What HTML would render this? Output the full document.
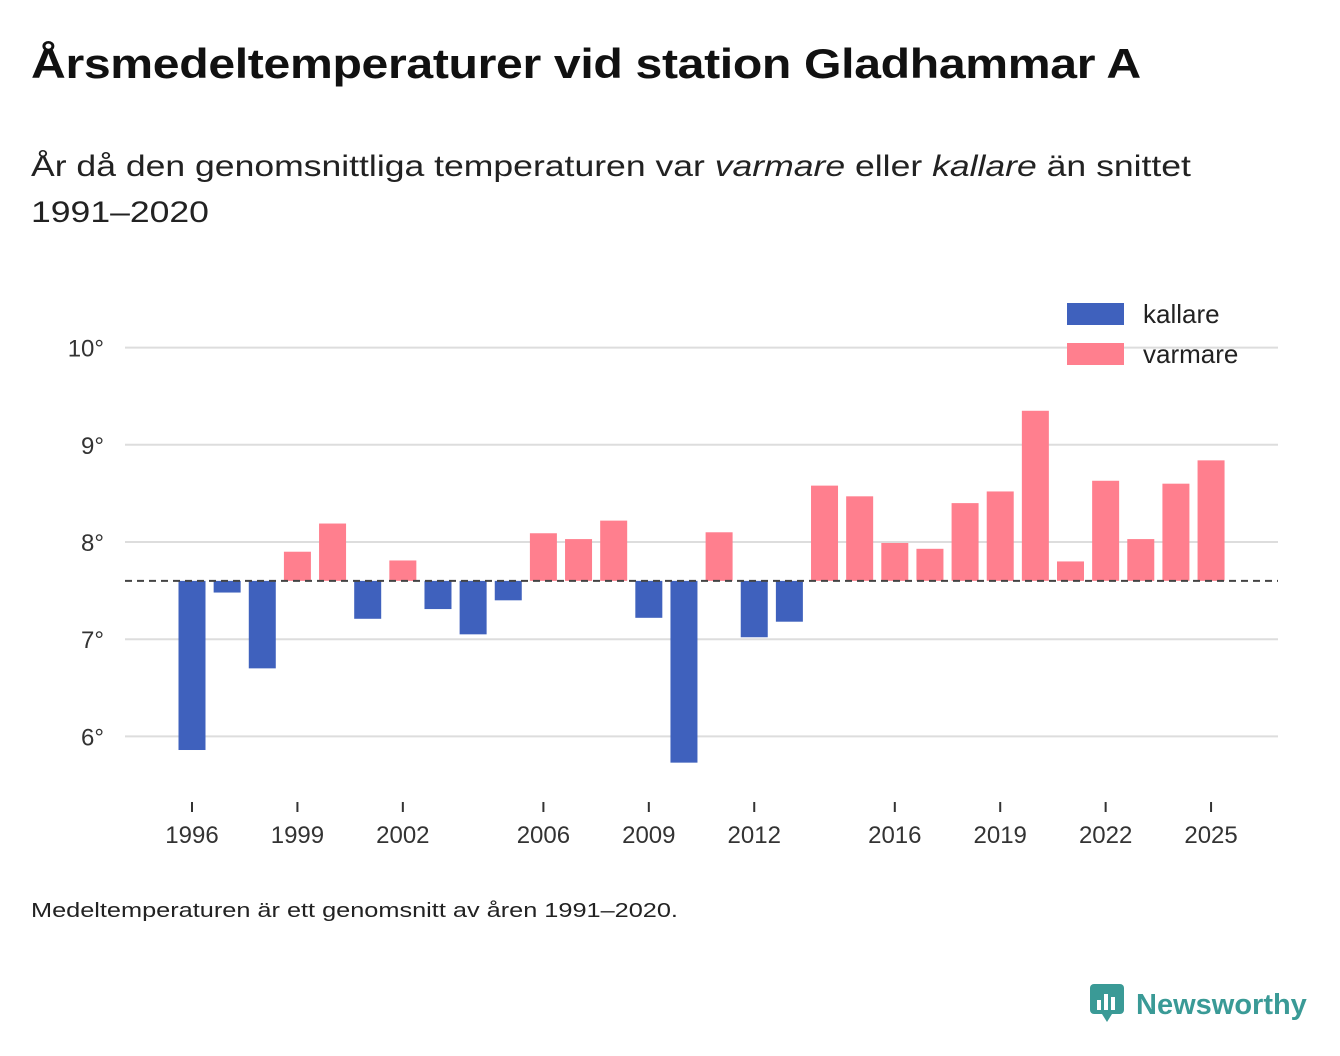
<!DOCTYPE html>
<html><head><meta charset="utf-8">
<style>
body{margin:0;background:#fff;width:1340px;height:1056px;overflow:hidden;font-family:"Liberation Sans","DejaVu Sans",sans-serif;color:#111}
h1{position:absolute;left:31px;top:40px;margin:0;font-size:42px;font-weight:bold;letter-spacing:-0.3px;transform:scaleX(1.147);transform-origin:0 0;white-space:nowrap}
.sub{position:absolute;left:31px;top:144px;font-size:30px;line-height:46px;color:#222;transform:scaleX(1.185);transform-origin:0 0;white-space:nowrap}
.foot{position:absolute;left:31px;top:900px;font-size:20px;color:#222;transform:scaleX(1.265);transform-origin:0 0;white-space:nowrap}
.logo{position:absolute;left:1090px;top:982px;font-size:29px;font-weight:bold;color:#3a9a96}
</style></head><body>
<h1>Årsmedeltemperaturer vid station Gladhammar A</h1>
<div class="sub">År då den genomsnittliga temperaturen var <i>varmare</i> eller <i>kallare</i> än snittet<br>1991–2020</div>
<svg id="chart" width="1340" height="1056" style="position:absolute;left:0;top:0"></svg>
<div class="foot">Medeltemperaturen är ett genomsnitt av åren 1991–2020.</div>
<div class="logo"><svg width="36" height="40" style="vertical-align:-8px;margin-right:10px"><rect x="0" y="2" width="34" height="30" rx="4" fill="#3a9a96"/><polygon points="12,32 22,32 17,40" fill="#3a9a96"/><rect x="7" y="18" width="4" height="10" fill="#fff"/><rect x="14" y="12" width="4" height="16" fill="#fff"/><rect x="21" y="15" width="4" height="13" fill="#fff"/></svg>Newsworthy</div>
<script>
const years=[1996,1997,1998,1999,2000,2001,2002,2003,2004,2005,2006,2007,2008,2009,2010,2011,2012,2013,2014,2015,2016,2017,2018,2019,2020,2021,2022,2023,2024,2025];
const temps=[5.86,7.48,6.70,7.90,8.19,7.21,7.81,7.31,7.05,7.40,8.09,8.03,8.22,7.22,5.73,8.10,7.02,7.18,8.58,8.47,7.99,7.93,8.40,8.52,9.35,7.80,8.63,8.03,8.60,8.84];
const baseline=7.6;
const yTicks=[6,7,8,9,10];
const xTicks=[1996,1999,2002,2006,2009,2012,2016,2019,2022,2025];
const svg=document.getElementById('chart');const NS='http://www.w3.org/2000/svg';
const y=v=>542-(v-8)*97.2;
const x=yr=>192+(yr-1996)*35.14;
function mk(t,a){const e=document.createElementNS(NS,t);for(const k in a)e.setAttribute(k,a[k]);svg.appendChild(e);return e;}
yTicks.forEach(v=>{
 const g=mk('line',{x1:125,x2:1278,y1:y(v),y2:y(v),stroke:'#ddd','stroke-width':2});
 
 
 const t=mk('text',{x:104,y:y(v)+9,'text-anchor':'end','font-size':24,fill:'#333'});t.textContent=v+'°';
 
 
});
years.forEach((yr,i)=>{
 const v=temps[i];const top=Math.min(y(v),y(baseline)),h=Math.abs(y(v)-y(baseline));
 const r=mk('rect',{x:x(yr)-13.5,y:top,width:27,height:h,fill:v<baseline?'#3f61bd':'#ff7f8e'});
 
 
});
const bl=mk('line',{x1:125,x2:1278,y1:y(baseline),y2:y(baseline),stroke:'#444','stroke-width':2,'stroke-dasharray':'7,5'});


xTicks.forEach(yr=>{
 mk('line',{x1:x(yr),x2:x(yr),y1:802,y2:812,stroke:'#333','stroke-width':2});
 const t=mk('text',{x:x(yr),y:843,'text-anchor':'middle','font-size':24,fill:'#333'});t.textContent=yr;
 
 
});
[['kallare','#3f61bd',303],['varmare','#ff7f8e',343]].forEach(([n,c,yy])=>{
 const r=mk('rect',{x:1067,y:yy,width:57,height:22,fill:c});
 
 
 const t=mk('text',{x:1143,y:yy+20,'font-size':26,fill:'#222'});t.textContent=n;
 
 
});
</script>
</body></html>
